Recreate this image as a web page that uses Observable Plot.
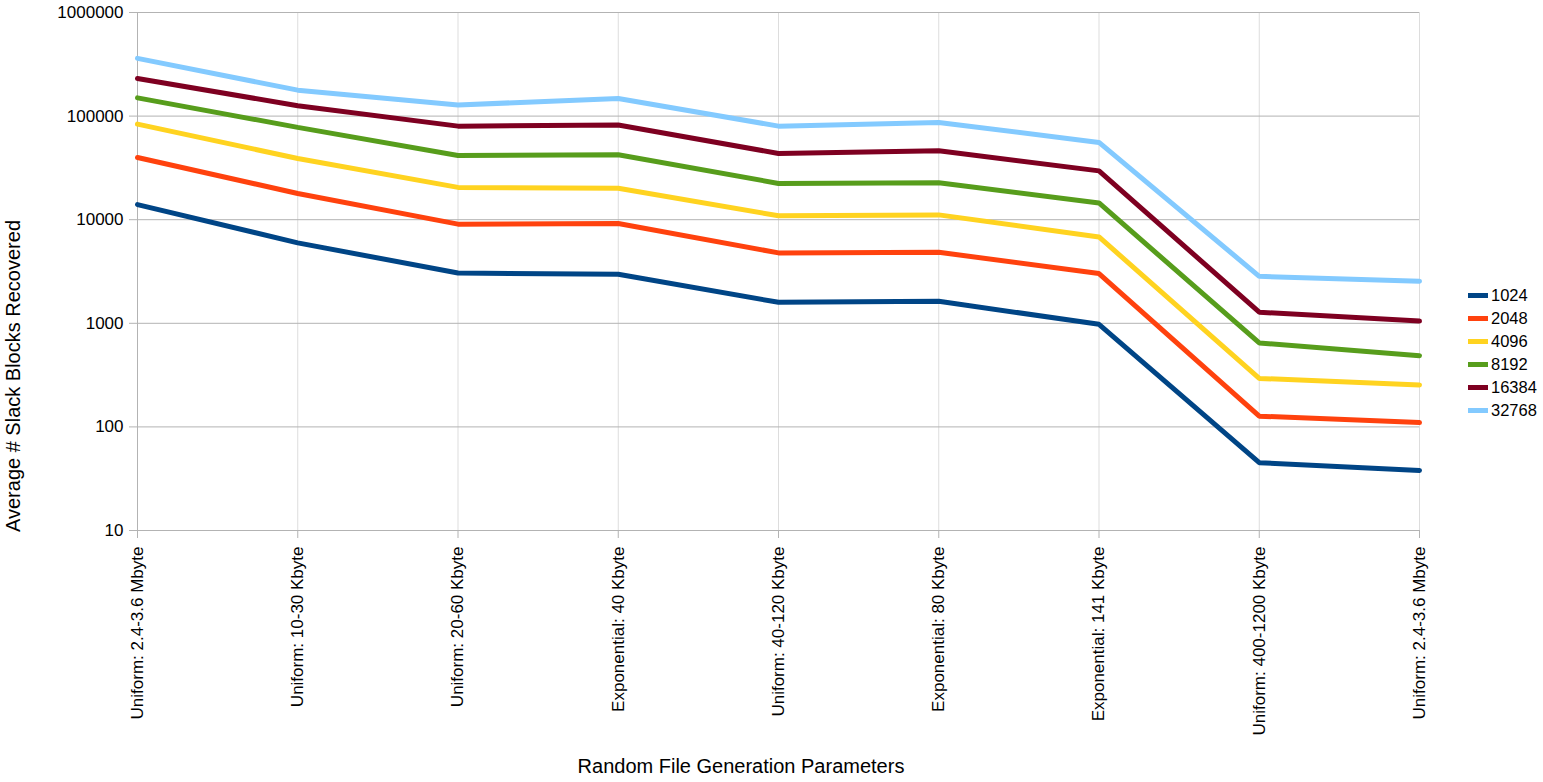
<!DOCTYPE html>
<html>
<head>
<meta charset="utf-8">
<script src="https://cdn.jsdelivr.net/npm/d3@7"></script>
<script src="https://cdn.jsdelivr.net/npm/@observablehq/plot@0.6"></script>
<style>
  html, body { margin: 0; padding: 0; background: #fff; }
  #wrap { position: relative; width: 1543px; height: 782px; font-family: "Liberation Sans", Arial, sans-serif; }
  #xlabel { position: absolute; left: 741px; top: 756px; transform: translateX(-50%); font-size: 20px; line-height: 20px; white-space: nowrap; color: #000; }
  #ylabel { position: absolute; left: 13px; top: 376px; transform: translate(-50%, -50%) rotate(-90deg); font-size: 20px; line-height: 20px; white-space: nowrap; color: #000; }
  #legend { position: absolute; left: 1468px; top: 284px; font-size: 16.5px; color: #000; }
  .item { display: flex; align-items: center; height: 23px; }
  .sw { width: 20px; height: 5px; margin-right: 3px; }
</style>
</head>
<body>
<div id="wrap">
  <div id="chart"></div>
  <div id="xlabel">Random File Generation Parameters</div>
  <div id="ylabel">Average # Slack Blocks Recovered</div>
  <div id="legend"></div>
</div>
<script>
const categories = [
  "Uniform: 2.4-3.6 Mbyte",
  "Uniform: 10-30 Kbyte",
  "Uniform: 20-60 Kbyte",
  "Exponential: 40 Kbyte",
  "Uniform: 40-120 Kbyte",
  "Exponential: 80 Kbyte",
  "Exponential: 141 Kbyte",
  "Uniform: 400-1200 Kbyte",
  "Uniform: 2.4-3.6 Mbyte"
];
const seriesNames = ["1024", "2048", "4096", "8192", "16384", "32768"];
const seriesColors = ["#004586", "#ff420e", "#ffd320", "#579d1c", "#7e0021", "#83caff"];
const yTicks = [10, 100, 1000, 10000, 100000, 1000000];

const v1024  = [14000, 5970, 3060, 2970, 1595, 1632, 978, 45.1, 38.0];
const v2048  = [39900, 17900, 9060, 9190, 4780, 4850, 3020, 127, 110];
const v4096  = [83700, 39000, 20500, 20100, 10900, 11130, 6820, 294, 254];
const v8192  = [150000, 77800, 41700, 42300, 22400, 22700, 14500, 646, 487];
const v16384 = [231000, 126000, 80000, 81900, 43600, 46300, 29600, 1280, 1050];
const v32768 = [361000, 178000, 128000, 148000, 80000, 86900, 55700, 2840, 2550];

const seriesValues = [v1024, v2048, v4096, v8192, v16384, v32768];
const data = [];
seriesNames.forEach((s, k) => {
  seriesValues[k].forEach((v, i) => data.push({series: s, i, value: v}));
});

const chart = Plot.plot({
  width: 1543,
  height: 782,
  marginLeft: 137,
  marginRight: 124,
  marginTop: 12,
  marginBottom: 252,
  style: {fontFamily: "Liberation Sans, Arial, sans-serif", fontSize: "17px", color: "#000", background: "#fff"},
  x: {type: "linear", domain: [0, categories.length - 1]},
  y: {type: "log", domain: [10, 1000000]},
  color: {domain: seriesNames, range: seriesColors},
  marks: [
    Plot.ruleX(d3.range(categories.length), {x: d => d, stroke: "#dddddd", strokeWidth: 1}),
    Plot.ruleY(yTicks, {y: d => d, stroke: "#b3b3b3", strokeWidth: 1}),
    Plot.ruleX([0], {stroke: "#b3b3b3", strokeWidth: 1}),
    Plot.axisY({
      ticks: yTicks,
      tickFormat: d => String(d),
      tickSize: 8,
      tickPadding: 6,
      stroke: "#b3b3b3",
      fill: "#000",
      fontSize: 17,
      label: null
    }),
    Plot.axisX({
      ticks: d3.range(categories.length),
      tickFormat: i => categories[i],
      tickRotate: -90,
      tickSize: 8,
      tickPadding: 8,
      stroke: "#b3b3b3",
      fill: "#000",
      fontSize: 17,
      label: null
    }),
    Plot.lineY(data, {x: "i", y: "value", z: "series", stroke: "series", strokeWidth: 5, strokeLinejoin: "miter"})
  ]
});
document.getElementById("chart").appendChild(chart);

const legend = document.getElementById("legend");
seriesNames.forEach((s, k) => {
  const item = document.createElement("div");
  item.className = "item";
  const sw = document.createElement("div");
  sw.className = "sw";
  sw.style.background = seriesColors[k];
  const t = document.createElement("span");
  t.textContent = s;
  item.appendChild(sw);
  item.appendChild(t);
  legend.appendChild(item);
});
</script>
</body>
</html>
